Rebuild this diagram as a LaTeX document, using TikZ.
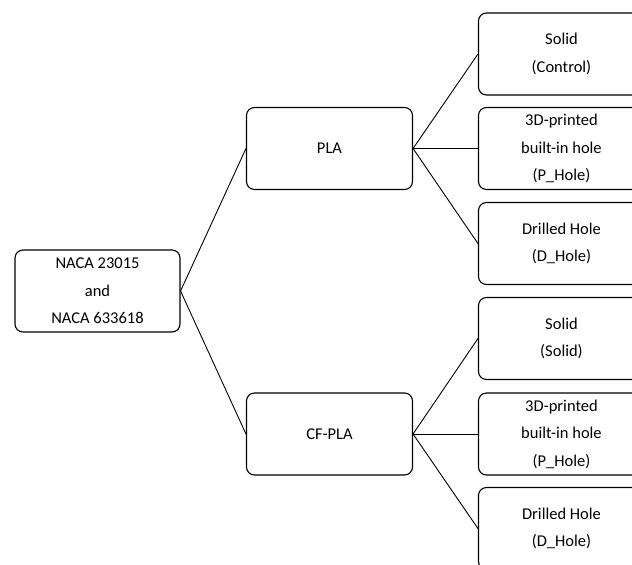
\documentclass[tikz,border=0pt]{standalone}
\usepackage{fontspec}
\setmainfont{Carlito}
\begin{document}
\begin{tikzpicture}[x=1pt,y=-1pt,
  box/.style={draw=black, rounded corners=8pt, line width=1.1pt, minimum width=166pt, minimum height=82pt, align=center, inner sep=0pt, font=\fontsize{16.5}{27.5}\selectfont},
  link/.style={draw=black, line width=0.9pt}]
\useasboundingbox (0,0) rectangle (632,565);
\clip (0,0) rectangle (632,565);
\node[box, minimum width=165pt] (root) at (97.5,291) {NACA 23015\\and\\NACA 633618};
\node[box] (pla) at (329.5,148.5) {PLA};
\node[box] (cf) at (329.5,434) {CF-PLA};
\node[box] (r1) at (561.5,54) {Solid\\(Control)};
\node[box] (r2) at (561.5,148.5) {3D-printed\\built-in hole\\(P\_Hole)};
\node[box] (r3) at (561.5,243.5) {Drilled Hole\\(D\_Hole)};
\node[box] (r4) at (561.5,338.5) {Solid\\(Solid)};
\node[box] (r5) at (561.5,434) {3D-printed\\built-in hole\\(P\_Hole)};
\node[box] (r6) at (561.5,528.5) {Drilled Hole\\(D\_Hole)};
\draw[link] (root.east) -- (pla.west);
\draw[link] (root.east) -- (cf.west);
\draw[link] (pla.east) -- (r1.west);
\draw[link] (pla.east) -- (r2.west);
\draw[link] (pla.east) -- (r3.west);
\draw[link] (cf.east) -- (r4.west);
\draw[link] (cf.east) -- (r5.west);
\draw[link] (cf.east) -- (r6.west);
\end{tikzpicture}
\end{document}
